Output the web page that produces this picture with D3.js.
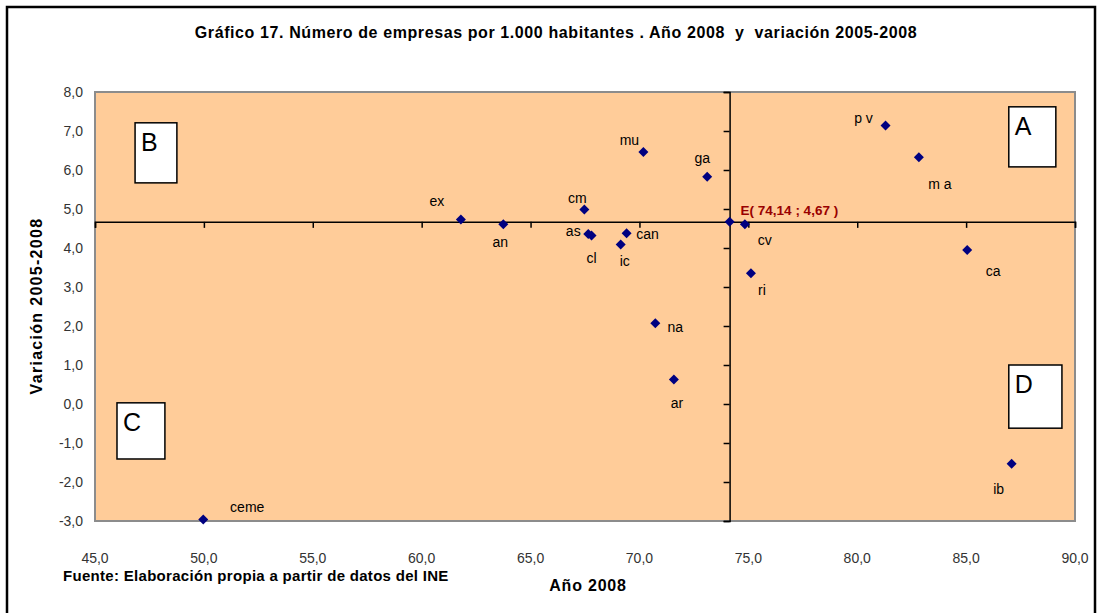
<!DOCTYPE html>
<html lang="es">
<head>
<meta charset="UTF-8">
<title>Gráfico 17</title>
<script src="https://d3js.org/d3.v7.min.js"></script>
<style>
  body { margin: 0; background: white; }
  text { font-family: "Liberation Sans", Arial, sans-serif; }
</style>
</head>
<body>
<div id="chart"></div>
<script>
// comunidades: codigo, empresas por 1.000 hab. (2008), variacion 2005-2008
const codes = ["ceme","ex","an","cm","as","cl","ic","can","mu","na","ar","ga","E","cv","ri","pv","ma","ca","ib"]
const year2008 = [49.97, 61.8, 63.75, 67.47, 67.65, 67.8, 69.14, 69.41, 70.18, 70.73, 71.58, 73.11, 74.14, 74.84, 75.12, 81.3, 82.83, 85.05, 87.09]
const variation = [-2.96, 4.73, 4.61, 4.99, 4.36, 4.32, 4.09, 4.38, 6.46, 2.07, 0.63, 5.83, 4.67, 4.61, 3.35, 7.14, 6.33, 3.95, -1.53]
// label offsets from the point (dx, dy)
const labelDx = [44, -24, -3, -7, -15, 0, 4, 21, -14, 20, 3, -5, 0, 20, 11, -22, 21, 26, -13]
const labelDy = [-12, -19, 18, -11, -3, 22, 17, 1, -12, 4, 24, -19, 0, 16, 17, -8, 27, 21, 25]

const meanX = 74.14, meanY = 4.67
const xTicks = d3.range(45, 90.1, 5)
const yTicks = d3.range(-3, 8.1, 1)
const quadrants = [
    {name: "A", x0: 86.96, x1: 89.12, y0: 7.62, y1: 6.08},
    {name: "B", x0: 46.84, x1: 48.76, y0: 7.21, y1: 5.67},
    {name: "C", x0: 46.01, x1: 48.21, y0: 0.03, y1: -1.41},
    {name: "D", x0: 86.96, x1: 89.40, y0: 1.0, y1: -0.62}
]

const width = 1100, height = 613
const plotLeft = 95, plotRight = 1075, plotTop = 92, plotBottom = 521

const fmt = d => d3.format(".1f")(d).replace(".", ",").replace("−", "-")

const svg = d3.select("#chart").append("svg")
    .attr("width", width)
    .attr("height", height)

// chart frame
svg.append("rect")
    .attr("x", 7).attr("y", 7)
    .attr("width", 1088).attr("height", 620)
    .attr("fill", "white")
    .attr("stroke", "black")
    .attr("stroke-width", 2.5)

const x = d3.scaleLinear().domain([45, 90]).range([plotLeft, plotRight])
const y = d3.scaleLinear().domain([-3, 8]).range([plotBottom, plotTop])

// plot area
svg.append("rect")
    .attr("x", plotLeft).attr("y", plotTop)
    .attr("width", plotRight - plotLeft).attr("height", plotBottom - plotTop)
    .attr("fill", "#FFCC99")
    .attr("stroke", "#8c8c8c")
    .attr("stroke-width", 2)

// quadrant boxes
const qg = svg.append("g")
quadrants.forEach(q => {
    qg.append("rect")
        .attr("x", x(q.x0)).attr("y", y(q.y0))
        .attr("width", x(q.x1) - x(q.x0))
        .attr("height", y(q.y1) - y(q.y0))
        .attr("fill", "white")
        .attr("stroke", "black")
        .attr("stroke-width", 1.5)
    qg.append("text")
        .attr("x", x(q.x0) + 6)
        .attr("y", y(q.y0) + 28)
        .style("font-size", "25px")
        .text(q.name)
})

// axes crossing at the mean (E)
const xAxis = d3.axisBottom(x).tickValues(xTicks).tickSize(6).tickFormat("")
svg.append("g")
    .attr("transform", "translate(0," + y(meanY) + ")")
    .call(xAxis)
    .call(g => g.select(".domain").attr("stroke-width", 1.5))
    .call(g => g.selectAll(".tick line").attr("stroke-width", 1.5))

const yAxis = d3.axisLeft(y).tickValues(yTicks).tickSize(6).tickFormat("")
svg.append("g")
    .attr("transform", "translate(" + x(meanX) + ",0)")
    .call(yAxis)
    .call(g => g.select(".domain").attr("stroke-width", 1.5))
    .call(g => g.selectAll(".tick line").attr("stroke-width", 1.5))

// tick labels at the low end
svg.append("g").selectAll("text")
    .data(xTicks)
    .join("text")
    .attr("x", d => x(d))
    .attr("y", 563)
    .attr("text-anchor", "middle")
    .style("font-size", "14px")
    .attr("fill", "#333")
    .text(fmt)

svg.append("g").selectAll("text")
    .data(yTicks)
    .join("text")
    .attr("x", 83)
    .attr("y", d => y(d) + 5)
    .attr("text-anchor", "end")
    .style("font-size", "14px")
    .attr("fill", "#333")
    .text(fmt)

// points
const pts = codes.map((c, i) => ({code: c, x: year2008[i], y: variation[i], dx: labelDx[i], dy: labelDy[i]}))

svg.append("g").selectAll("path")
    .data(pts)
    .join("path")
    .attr("transform", d => "translate(" + x(d.x) + "," + y(d.y) + ")")
    .attr("d", "M0,-5L5,0L0,5L-5,0Z")
    .attr("fill", "#000080")

svg.append("g").selectAll("text")
    .data(pts.filter(d => d.code != "E"))
    .join("text")
    .attr("x", d => x(d.x) + d.dx)
    .attr("y", d => y(d.y) + d.dy + 5)
    .attr("text-anchor", "middle")
    .style("font-size", "14px")
    .text(d => d.code == "pv" ? "p v" : d.code == "ma" ? "m a" : d.code)

svg.append("text")
    .attr("x", x(meanX) + 11)
    .attr("y", y(meanY) - 7)
    .style("font-size", "13.5px")
    .style("font-weight", "bold")
    .attr("fill", "#990000")
    .text("E( 74,14 ; 4,67 )")

// titles
svg.append("text")
    .attr("x", 556)
    .attr("y", 38)
    .attr("text-anchor", "middle")
    .attr("xml:space", "preserve")
    .style("white-space", "pre")
    .style("font-size", "16px")
    .style("letter-spacing", "0.6px")
    .style("font-weight", "bold")
    .text("Gráfico 17. Número de empresas por 1.000 habitantes . Año 2008  y  variación 2005-2008")

svg.append("text")
    .attr("transform", "rotate(-90)")
    .attr("x", -306)
    .attr("y", 42)
    .attr("text-anchor", "middle")
    .style("font-size", "16px")
    .style("letter-spacing", "1.3px")
    .style("font-weight", "bold")
    .text("Variación 2005-2008")

svg.append("text")
    .attr("x", 588)
    .attr("y", 591)
    .attr("text-anchor", "middle")
    .style("font-size", "16px")
    .style("letter-spacing", "0.8px")
    .style("font-weight", "bold")
    .text("Año 2008")

svg.append("text")
    .attr("x", 63)
    .attr("y", 581)
    .style("font-size", "15px")
    .style("letter-spacing", "0.3px")
    .style("font-weight", "bold")
    .text("Fuente: Elaboración propia a partir de datos del INE")
</script>
</body>
</html>
